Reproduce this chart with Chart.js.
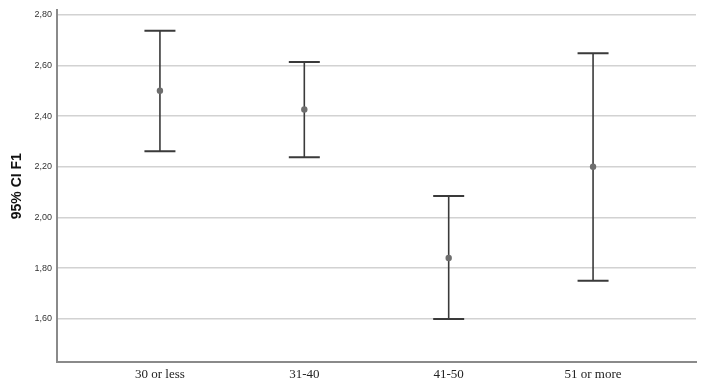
<!DOCTYPE html>
<html>
<head>
<meta charset="utf-8">
<script src="https://cdn.jsdelivr.net/npm/chart.js@4/dist/chart.umd.min.js"></script>
<style>
  html, body { margin: 0; padding: 0; background: #fff; }
  #wrap { width: 704px; height: 386px; }
</style>
</head>
<body>
<div id="wrap"><canvas id="ci"></canvas></div>
<script>
// values
const categories = ['30 or less', '31-40', '41-50', '51 or more'];
const means = [2.50, 2.426, 1.84, 2.20];
const lowerCI = [2.261, 2.238, 1.60, 1.751];
const upperCI = [2.737, 2.613, 2.085, 2.648];
const yTicks = [1.6, 1.8, 2.0, 2.2, 2.4, 2.6, 2.8];

// draw the vertical whisker + caps for each group
const errorBars = {
  id: 'errorBars',
  beforeDatasetsDraw(chart) {
    const { ctx, scales: { x, y } } = chart;
    const capHalf = 15.5;
    ctx.save();
    ctx.strokeStyle = '#3a3a3a';
    ctx.lineCap = 'butt';
    categories.forEach((c, i) => {
      const px = x.getPixelForValue(i);
      const top = y.getPixelForValue(upperCI[i]);
      const bot = y.getPixelForValue(lowerCI[i]);
      ctx.lineWidth = 1.6;
      ctx.beginPath();
      ctx.moveTo(px, top);
      ctx.lineTo(px, bot);
      ctx.stroke();
      ctx.lineWidth = 2;
      ctx.beginPath();
      ctx.moveTo(px - capHalf, top);
      ctx.lineTo(px + capHalf, top);
      ctx.moveTo(px - capHalf, bot);
      ctx.lineTo(px + capHalf, bot);
      ctx.stroke();
    });
    ctx.restore();
  }
};

const ctx = document.getElementById('ci').getContext('2d');
new Chart(ctx, {
  type: 'scatter',
  data: {
    datasets: [{
      data: categories.map((c, i) => ({ x: i, y: means[i] })),
      pointRadius: 3.2,
      pointBackgroundColor: '#6e6e6e',
      pointBorderColor: '#6e6e6e',
      pointBorderWidth: 0,
    }]
  },
  options: {
    responsive: true,
    maintainAspectRatio: false,
    animation: false,
    layout: { padding: { left: 0, right: 8, top: 8, bottom: 0 } },
    plugins: { legend: { display: false }, tooltip: { enabled: false } },
    scales: {
      x: {
        type: 'linear',
        min: -0.713,
        max: 3.713,
        afterBuildTicks: (scale) => { scale.ticks = categories.map((c, i) => ({ value: i })); },
        afterFit: (scale) => { scale.height = 24; },
        grid: { color: 'rgba(0,0,0,0)', drawTicks: false },
        border: { display: true, color: '#8a8a8a', width: 2 },
        ticks: {
          padding: 5,
          color: '#222',
          font: { family: '"Liberation Serif", "Times New Roman", serif', size: 13 },
          callback: (v) => categories[v]
        }
      },
      y: {
        min: 1.43,
        max: 2.817,
        afterBuildTicks: (scale) => { scale.ticks = yTicks.map(v => ({ value: v })); },
        afterFit: (scale) => { scale.width = 57; },
        grid: { color: '#d2d2d2', lineWidth: 1.5, drawTicks: false },
        border: { display: true, color: '#8a8a8a', width: 2 },
        ticks: {
          padding: 5,
          color: '#333',
          font: { family: '"Liberation Sans", Arial, sans-serif', size: 9 },
          callback: (v) => v.toFixed(2).replace('.', ',')
        },
        title: {
          display: true,
          text: '95% CI F1',
          color: '#111',
          padding: { top: 9, bottom: 0 },
          font: { family: '"Liberation Sans", Arial, sans-serif', size: 14, weight: 'bold' }
        }
      }
    }
  },
  plugins: [errorBars]
});
</script>
</body>
</html>
